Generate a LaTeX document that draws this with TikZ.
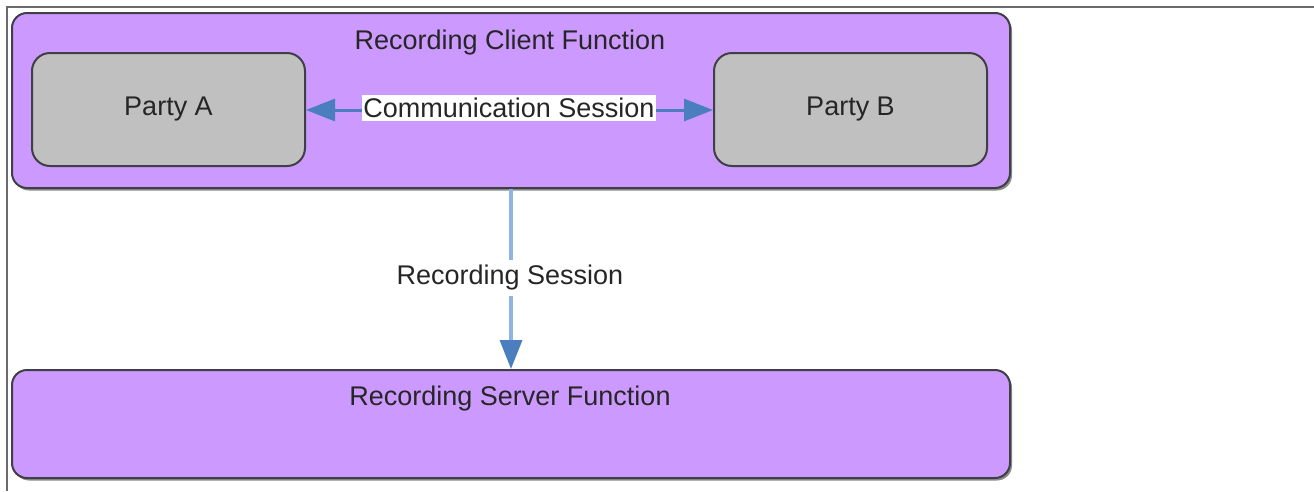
\documentclass[tikz,border=0pt]{standalone}
\usepackage{fontspec}
\setmainfont{Liberation Sans}
\usetikzlibrary{arrows.meta}
\definecolor{boxpurple}{HTML}{CC99FF}
\definecolor{partygray}{HTML}{C0C0C0}
\definecolor{edgegray}{HTML}{3F3F46}
\definecolor{linkblue}{HTML}{4A7EBF}
\definecolor{lightlink}{HTML}{8FB4E3}
\definecolor{framegray}{HTML}{6B6B6B}
\tikzset{
  x=1pt, y=-1pt,
  sesstip/.tip={Triangle[length=29pt,width=22pt]},
  shadowed/.style={preaction={fill=black!45, transform canvas={shift={(2pt,-2.5pt)}}}},
  funcbox/.style={draw=edgegray, line width=2pt, fill=boxpurple, rounded corners=15pt,
    shadowed, inner sep=0pt},
  partybox/.style={draw=edgegray, line width=2pt, fill=partygray, rounded corners=18pt,
    inner sep=0pt, font=\fontsize{27}{31}\selectfont, text=black!85},
  title/.style={font=\fontsize{27}{31}\selectfont, inner sep=0pt, text=black!85},
  tag/.style={fill=white, font=\fontsize{27}{31}\selectfont, inner xsep=1pt, inner ysep=3pt, text=black!85},
}
\begin{document}
\begin{tikzpicture}
\useasboundingbox (0,0) rectangle (1314,491);
% outer frame (left and top edges)
\draw[framegray, line width=2pt] (6.5,491) -- (6.5,7) -- (1314,7);

% function boxes
\node[funcbox, minimum width=998pt, minimum height=175pt] (client) at (511,100.5) {};
\node[funcbox, minimum width=998pt, minimum height=108pt] (server) at (511,424) {};
\node[title] (clienttitle) at (510,43) {Recording Client Function};
\node[title] (servertitle) at (510,399) {Recording Server Function};

% parties
\node[partybox, minimum width=273pt, minimum height=113pt] (partyA) at (168.5,109.5) {Party A};
\node[partybox, minimum width=273pt, minimum height=113pt] (partyB) at (850.5,109.5) {Party B};

% communication session between the parties
\draw[line width=3pt, draw=linkblue, sesstip-sesstip]
  (partyA.east |- 0,110) -- (partyB.west |- 0,110);
\node[tag] (comm) at (509,108) {Communication Session};

% recording session from client to server
\coordinate (recfrom) at (client.south -| 511,0);
\coordinate (recto) at (server.north -| 511,0);
\draw[line width=3.5pt, draw=lightlink, -{sesstip[color=linkblue]}]
  (recfrom) -- (recto);
\node[tag, inner ysep=5pt] (rec) at (510,278) {Recording Session};
\end{tikzpicture}
\end{document}
